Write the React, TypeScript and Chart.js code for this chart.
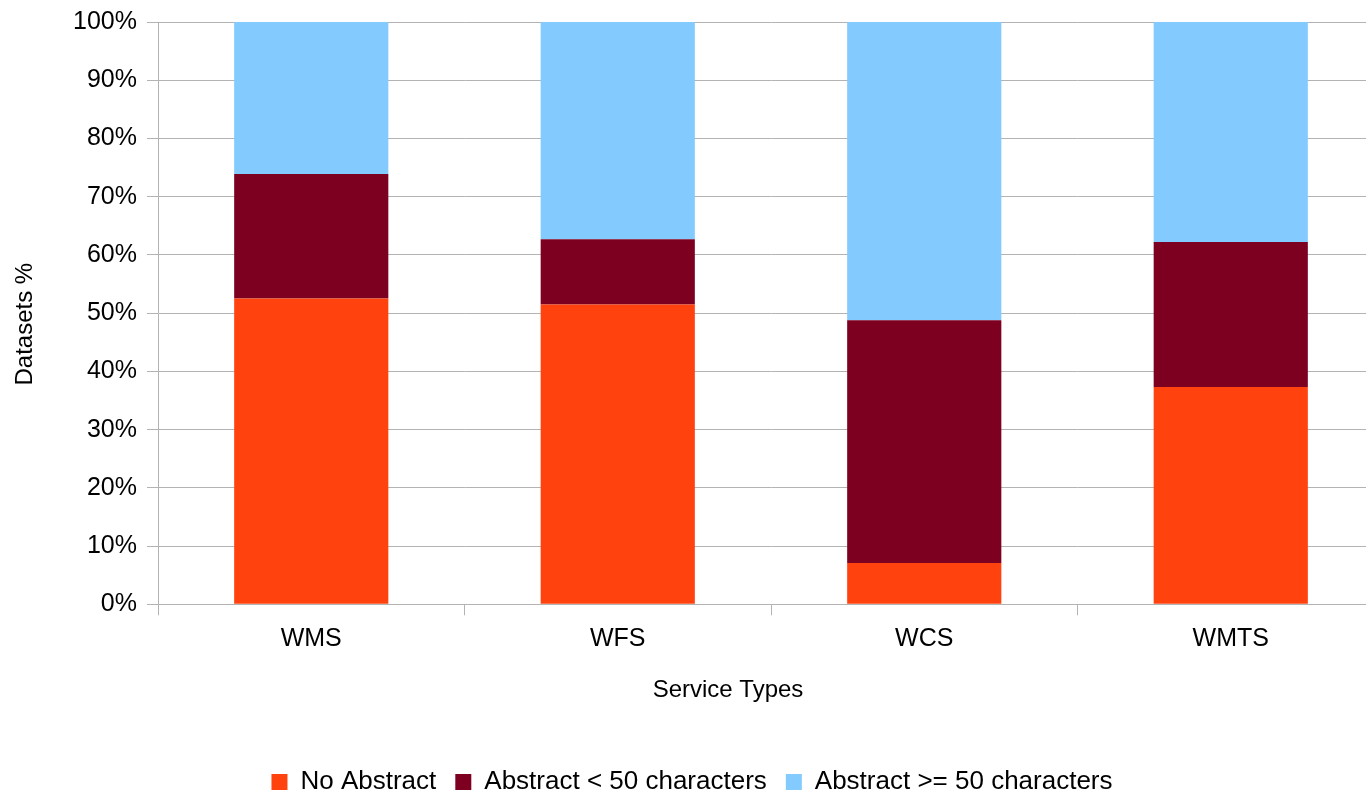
import React, { useEffect, useRef } from "react";
import { Chart, registerables } from "chart.js";

Chart.register(...registerables);

const categories = ["WMS", "WFS", "WCS", "WMTS"];
const noAbstract = [52.5, 51.5, 7.1, 37.3];
const shortAbstract = [21.4, 11.2, 41.7, 24.9];
const longAbstract = [26.1, 37.3, 51.2, 37.8];
const yTicks = [0, 10, 20, 30, 40, 50, 60, 70, 80, 90, 100];
const xTitle = "Service Types";
const yTitle = "Datasets %";

const FONT = "'Liberation Sans', Arial, sans-serif";
const GRID = "#b3b3b3";

const axisTitlePlugin = {
  id: "axisTitles",
  afterDraw(chart: any) {
    const { ctx, chartArea } = chart;
    ctx.save();
    ctx.fillStyle = "#000";
    ctx.font = `24px ${FONT}`;
    ctx.textAlign = "center";
    ctx.textBaseline = "middle";
    // x title
    ctx.fillText(xTitle, chartArea.left + 570, chartArea.bottom + 86);
    // y title
    ctx.translate(25, (chartArea.top + chartArea.bottom) / 2 + 11);
    ctx.rotate(-Math.PI / 2);
    ctx.fillText(yTitle, 0, 0);
    ctx.restore();
  },
};

export default function App() {
  const ref = useRef<HTMLCanvasElement | null>(null);

  useEffect(() => {
    if (!ref.current) return;
    const chart = new Chart(ref.current, {
      type: "bar",
      data: {
        labels: categories,
        datasets: [
          { label: "No Abstract", data: noAbstract, backgroundColor: "#ff420e" },
          { label: "Abstract < 50 characters", data: shortAbstract, backgroundColor: "#7e0021" },
          { label: "Abstract >= 50 characters", data: longAbstract, backgroundColor: "#83caff" },
        ],
      },
      plugins: [axisTitlePlugin],
      options: {
        responsive: false,
        animation: false,
        devicePixelRatio: 1,
        layout: { padding: { top: 18, bottom: -12, left: 0, right: 0 } },
        datasets: { bar: { barPercentage: 0.503, categoryPercentage: 1 } },
        plugins: {
          tooltip: { enabled: false },
          legend: {
            position: "bottom",
            labels: {
              font: { family: FONT, size: 26 },
              color: "#000",
              boxWidth: 16,
              boxHeight: 16,
              padding: 19,
            },
          },
        },
        scales: {
          x: {
            stacked: true,
            offset: true,
            grid: {
              offset: true,
              drawOnChartArea: false,
              drawTicks: true,
              tickLength: 11,
              color: GRID,
            },
            border: { color: GRID },
            ticks: { font: { family: FONT, size: 25 }, color: "#000", padding: 9 },
            title: { display: false },
            afterFit: (s: any) => {
              s.height = 145.7;
            },
          },
          y: {
            stacked: true,
            min: 0,
            max: 100,
            afterBuildTicks: (s: any) => {
              s.ticks = yTicks.map((v) => ({ value: v }));
            },
            grid: { color: GRID, tickLength: 11, drawTicks: true },
            border: { color: GRID },
            ticks: {
              font: { family: FONT, size: 25 },
              color: "#000",
              padding: 10,
              callback: (v: any) => v + "%",
            },
            title: { display: false },
            afterFit: (s: any) => {
              s.width = 158;
            },
          },
        },
      },
    });
    return () => chart.destroy();
  }, []);

  return (
    <div
      style={{
        position: "fixed",
        left: 0,
        top: 0,
        width: 1366,
        height: 793,
        overflow: "hidden",
        background: "#fff",
      }}
    >
      <canvas
        ref={ref}
        width={1384}
        height={796}
        style={{ display: "block", width: 1384, height: 796, marginTop: -3 }}
      />
    </div>
  );
}
